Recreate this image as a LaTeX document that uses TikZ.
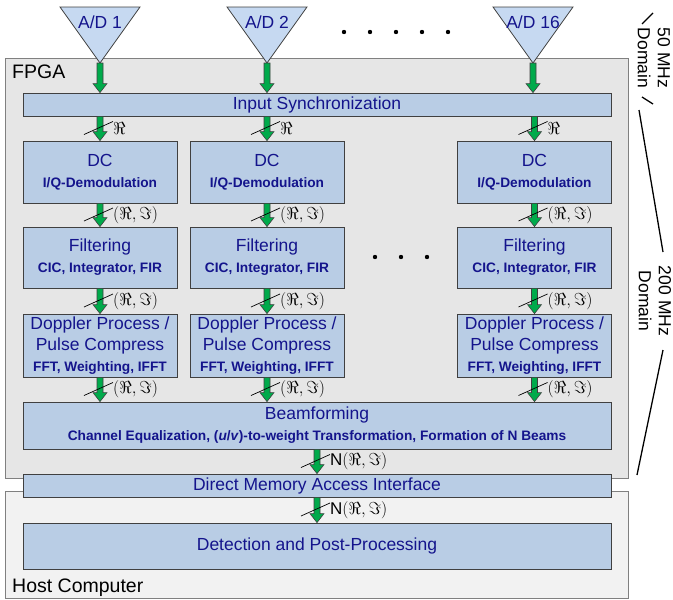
\documentclass[tikz,border=0pt]{standalone}
\usepackage{fontspec}
\setmainfont{Liberation Sans}
\usepackage{amsmath,amssymb}
\usetikzlibrary{calc}

\definecolor{boxblue}{RGB}{185,205,229}
\definecolor{adblue}{RGB}{198,217,241}
\definecolor{txtblue}{RGB}{20,20,140}
\definecolor{argreen}{RGB}{0,170,75}
\definecolor{fpgagray}{RGB}{230,230,230}
\definecolor{hostgray}{RGB}{242,242,242}

\newcommand{\blkfont}{\fontsize{17.5}{21}\selectfont}
\newcommand{\blksub}{\fontsize{13.7}{16}\selectfont\bfseries}
\newcommand{\bigfont}{\fontsize{19.5}{22}\selectfont}

\tikzset{
  frame/.style={draw=black!50, line width=0.8pt},
  blk/.style={draw=black!75, fill=boxblue, text=txtblue, align=center,
    inner sep=0pt, font=\blkfont, line width=0.8pt},
  cbox/.style={blk, minimum width=154pt},
  wide/.style={blk, minimum width=588pt},
  adc/.style={draw=black!75, fill=adblue, line width=0.8pt},
  garrow/.style={fill=argreen, draw=black!75, line width=0.6pt,
    to path={($(\tikztostart)+(-3,0)$) -- ($(\tikztostart)+(3,0)$)
      -- ($(\tikztotarget)+(3,-9)$) -- ($(\tikztotarget)+(7,-9)$)
      -- (\tikztotarget) -- ($(\tikztotarget)+(-7,-9)$)
      -- ($(\tikztotarget)+(-3,-9)$) -- cycle}},
  tick/.style={draw=black, line width=0.7pt},
  sig/.style={anchor=west, inner sep=0pt, font=\fontsize{17}{20}\selectfont},
  brk/.style={draw=black, line width=1.3pt},
  dom/.style={rotate=-90, align=center, inner sep=0pt,
    font=\fontsize{17.5}{20}\selectfont},
}

% Bus mit Querstrich und Beschriftung
\newcommand{\busarrow}[4]{%
  \path[garrow] (#2) to (#3);
  \draw[tick] ($(#2)!.5!(#3)+(-16,6)$) -- +(29,-13);
  \node[sig] (#1) at ($(#2)!.5!(#3)+(13,0)$) {#4};}

\begin{document}
\begin{tikzpicture}[x=1pt,y=-1pt]
  \useasboundingbox (0,0) rectangle (673,600);

  % FPGA und Host
  \draw[frame, fill=fpgagray] (5,58) rectangle (628,478);
  \draw[frame, fill=hostgray] (5,491) rectangle (628,598);
  \node[anchor=base west, inner sep=0pt, font=\bigfont] (fpga) at (12,78) {FPGA};
  \node[anchor=base west, inner sep=0pt, font=\bigfont] (host) at (12,592) {Host Computer};

  % A/D-Wandler
  \foreach \c/\x/\n in {1/100/1,2/267/2,3/533/16} {
    \draw[adc] (\x-40,7) -- (\x+40,7) -- (\x,63) -- cycle;
    \coordinate (ad\c) at (\x,63);
    \node[text=txtblue, font=\blkfont, inner sep=0pt] (adt\c) at (\x,22.5) {A/D \n};
  }
  \foreach \x in {344,370,396,422,448}
    \fill (\x,32) circle (2.2pt);

  % Bloecke
  \node[wide, minimum height=23pt] (sync) at (317,104.5) {Input Synchronization};
  \foreach \c/\x in {1/100,2/267,3/534.5} {
    \node[cbox, minimum height=62pt] (dc\c) at (\x,172)
      {DC\\{\blksub I/Q-Demodulation}};
    \node[cbox, minimum height=61pt] (flt\c) at (\x,257.5)
      {Filtering\\{\blksub CIC, Integrator, FIR}};
    \node[cbox, minimum height=63pt] (dop\c) at (\x,345.5)
      {Doppler Process /\\Pulse Compress\\{\blksub FFT, Weighting, IFFT}};
  }
  \foreach \x in {375,401,427}
    \fill (\x,257) circle (2.2pt);
  \node[wide, minimum height=47pt] (beam) at (317,425.5)
    {Beamforming\\{\blksub Channel Equalization, (\textit{u}/\textit{v})-to-weight Transformation, Formation of N Beams}};
  \node[wide, minimum height=23pt] (dma) at (317,485.5) {Direct Memory Access Interface};
  \node[wide, minimum height=46pt] (det) at (317,546) {Detection and Post-Processing};

  % Datenpfade
  \foreach \c in {1,2,3} {
    \path[garrow] (ad\c) to (sync.north -| ad\c);
    \busarrow{re\c}{sync.south -| dc\c.north}{dc\c.north}{$\Re$}
    \busarrow{iq\c}{dc\c.south}{flt\c.north}{$(\Re,\Im)$}
    \busarrow{fq\c}{flt\c.south}{dop\c.north}{$(\Re,\Im)$}
    \busarrow{bq\c}{dop\c.south}{beam.north -| dop\c.south}{$(\Re,\Im)$}
  }
  \busarrow{nb}{beam.south}{dma.north}{N$(\Re,\Im)$}
  \busarrow{nd}{dma.south}{det.north}{N$(\Re,\Im)$}

  % Taktdomaenen
  \node[dom] (mhz50) at (654,58) {50 MHz\\Domain};
  \draw[brk] (642,24) -- (653,13);
  \draw[brk] (642,97) -- (653,104);
  \node[dom] (mhz200) at (655,301) {200 MHz\\Domain};
  \draw[brk] (639,110) -- (663,252);
  \draw[brk] (663,350) -- (637,475);
\end{tikzpicture}
\end{document}
